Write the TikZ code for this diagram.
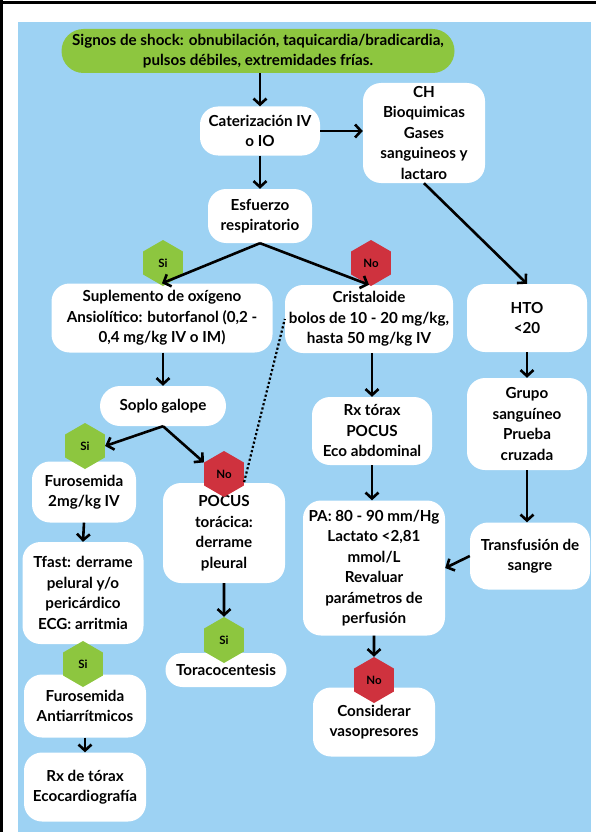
\documentclass[tikz,border=0pt]{standalone}
\usepackage{fontspec}
\setmainfont{Lato}
\usetikzlibrary{shapes.geometric,arrows.meta,calc}

\definecolor{bgblue}{RGB}{157,210,243}
\definecolor{leafgreen}{RGB}{141,198,63}
\definecolor{alertred}{RGB}{207,50,62}

\tikzset{
  card/.style={fill=white, rounded corners=18pt, align=center, inner sep=0pt,
    font=\bfseries\fontsize{15.2}{20.5}\selectfont},
  hexa/.style={regular polygon, regular polygon sides=6, shape border rotate=30,
    minimum size=46pt, inner sep=0pt, font=\bfseries\fontsize{11.5}{13}\selectfont},
  yes/.style={hexa, fill=leafgreen},
  nope/.style={hexa, fill=alertred},
  arr/.style={line width=2.6pt, -{Straight Barb[length=6pt,width=13pt]}},
  dots/.style={line width=2.2pt, dash pattern=on 2.2pt off 2.2pt},
}

\begin{document}
\begin{tikzpicture}[x=1pt,y=-1pt]
  \useasboundingbox (0,0) rectangle (596,832);
  % page frame
  \fill[white] (0,0) rectangle (596,832);
  \fill[black] (0,1.5) rectangle (596,4.5);
  \fill[black] (0,0) rectangle (3,832);
  \fill[bgblue] (18,22) rectangle (591,832);

  % boxes
  \node[card, fill=leafgreen, rounded corners=22pt, minimum width=393pt, minimum height=44pt]
    (top) at (258,51) {Signos de shock: obnubilación, taquicardia/bradicardia,\\pulsos débiles, extremidades frías.};
  \node[card, minimum width=120pt, minimum height=49pt] (cat) at (260,131) {Caterización IV\\o IO};
  \node[card, minimum width=122pt, minimum height=100pt] (ch) at (424,133) {CH\\Bioquimicas\\Gases\\sanguineos y\\lactaro};
  \node[card, minimum width=104pt, minimum height=54pt] (esf) at (260,216) {Esfuerzo\\respiratorio};
  \node[card, minimum width=221pt, minimum height=69pt] (sup) at (162,318) {Suplemento de oxígeno\\Ansiolítico: butorfanol (0,2 -\\0,4 mg/kg IV o IM)};
  \node[card, minimum width=168pt, minimum height=68pt] (cri) at (369,319) {Cristaloide\\bolos de 10 - 20 mg/kg,\\hasta 50 mg/kg IV};
  \node[card, minimum width=120pt, minimum height=68pt] (hto) at (527,318) {HTO\\<20};
  \node[card, rounded corners=20pt, minimum width=126pt, minimum height=40pt] (soplo) at (163,406) {Soplo galope};
  \node[card, minimum width=120pt, minimum height=68pt] (rx) at (372,431) {Rx tórax\\POCUS\\Eco abdominal};
  \node[card, minimum width=120pt, minimum height=92pt] (grupo) at (527,424) {Grupo\\sanguíneo\\Prueba\\cruzada};
  \node[card, minimum width=104pt, minimum height=61pt] (furo) at (84,492) {Furosemida\\2mg/kg IV};
  \node[card, minimum width=122pt, minimum height=100pt] (pocus) at (224,533) {POCUS\\torácica:\\derrame\\pleural};
  \node[card, minimum width=142pt, minimum height=135pt] (pa) at (374,568) {PA: 80 - 90 mm/Hg\\Lactato <2,81\\mmol/L\\Revaluar\\parámetros de\\perfusión};
  \node[card, minimum width=120pt, minimum height=67pt] (trans) at (530,556) {Transfusión de\\sangre};
  \node[card, minimum width=121pt, minimum height=102pt] (tfast) at (83,593) {Tfast: derrame\\pelural y/o\\pericárdico\\ECG: arritmia};
  \node[card, rounded corners=17pt, minimum width=121pt, minimum height=34pt] (tora) at (226,670) {Toracocentesis};
  \node[card, minimum width=122pt, minimum height=63pt] (furoA) at (85,706) {Furosemida\\Antiarrítmicos};
  \node[card, minimum width=122pt, minimum height=69pt] (cons) at (374,722) {Considerar\\vasopresores};
  \node[card, minimum width=122pt, minimum height=69pt] (rxe) at (85,787) {Rx de tórax\\Ecocardiografía};

  % decision tags
  \node[yes] (si1) at (163,263) {Si};
  \node[nope] (no1) at (371,263) {No};
  \node[yes] (si2) at (85,446) {Si};
  \node[nope] (no2) at (224,474) {No};
  \node[yes] (si3) at (83,664) {Si};
  \node[yes] (si4) at (224,640) {Si};
  \node[nope] (no3) at (374,680) {No};

  % connectors
  \draw[arr] (top.south -| cat.north) -- (cat.north);
  \draw[arr] (cat.south) -- (esf.north);
  \draw[arr] (cat.east) -- (cat.east -| ch.west);
  \draw[arr] (ch.south) -- (hto.north);
  \draw[arr] (esf.south) -- (sup.north);
  \draw[arr] (esf.south) -- (cri.north);
  \draw[arr] (sup.south -| soplo.north) -- (soplo.north);
  \draw[arr] (soplo.south) -- (si2.east);
  \draw[arr] (soplo.south) -- (no2.150);
  \draw[dots] (no2.-22) -- (cri.west);
  \draw[arr] (furo.south) -- (tfast.north);
  \draw[arr] (furoA.south) -- (rxe.north);
  \draw[arr] (pocus.south) -- (si4.north);
  \draw[arr] (cri.south -| rx.north) -- (rx.north);
  \draw[arr] (rx.south) -- (rx.south |- pa.north);
  \draw[arr] (pa.south) -- (no3.north);
  \draw[arr] (hto.south) -- (grupo.north);
  \draw[arr] (grupo.south) -- (grupo.south |- trans.north);
  \draw[arr] (trans.west) -- (pa.east);
\end{tikzpicture}
\end{document}
